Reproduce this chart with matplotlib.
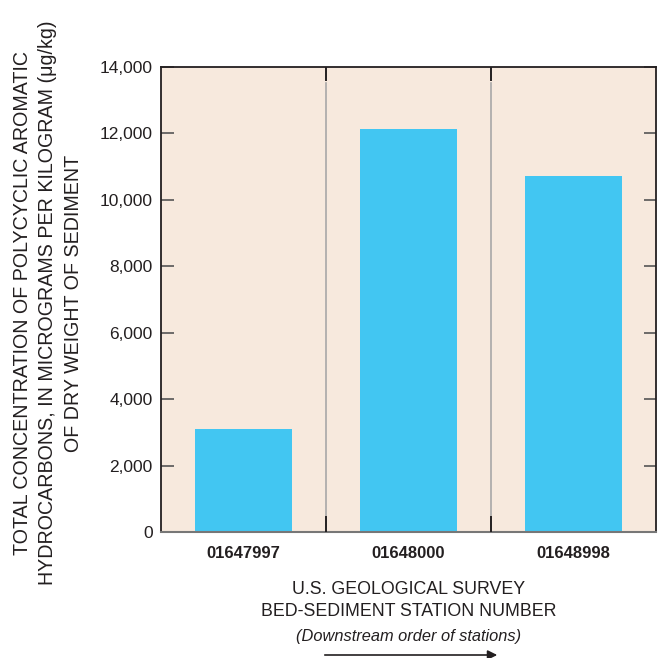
import matplotlib.pyplot as plt
from matplotlib.ticker import FuncFormatter, MultipleLocator

# ================================
# DATA
# ================================
stations = ["01647997", "01648000", "01648998"]
pah_total = [3100, 12130, 10710]  # micrograms per kilogram

y_max = 14000
y_step = 2000

plt.rcParams["font.family"] = ["Liberation Sans", "DejaVu Sans"]
ink = "#231f20"

# ================================
# FIGURE
# ================================
fig = plt.figure(figsize=(6.61, 6.58), dpi=100)
ax = fig.add_axes([161 / 661, 1 - 532 / 658, 495 / 661, 465 / 658])
ax.set_facecolor("#f7e9dd")

x = range(len(stations))
ax.bar(x, pah_total, width=0.59, color="#42c6f2", zorder=2)

ax.set_xlim(-0.5, len(stations) - 0.5)
ax.set_ylim(0, y_max)

# station separators with short black ticks at top and bottom
for sep in [0.5, 1.5]:
    ax.axvline(sep, ymin=0.035, ymax=0.965, color="#a8a8a8", lw=1.2, zorder=1)
    ax.axvline(sep, ymin=0, ymax=0.032, color=ink, lw=1.4, zorder=3)
    ax.axvline(sep, ymin=0.973, ymax=1, color=ink, lw=1.4, zorder=3)

ax.yaxis.set_major_locator(MultipleLocator(y_step))
ax.yaxis.set_major_formatter(FuncFormatter(lambda v, p: f"{int(v):,}"))
ax.tick_params(axis="y", direction="in", length=9, width=1.2, color="#555555",
               labelsize=12.5, right=True, pad=6, labelcolor=ink)
ax.set_xticks(list(x))
ax.set_xticklabels(stations, fontsize=12, fontweight="bold", color=ink)
ax.tick_params(axis="x", length=0, pad=10)

for side in ["left", "right", "top"]:
    ax.spines[side].set_color(ink)
    ax.spines[side].set_linewidth(1.3)
ax.spines["bottom"].set_color("#777777")
ax.spines["bottom"].set_linewidth(1.5)

fig.text(48 / 661, 1 - 303 / 658,
         "TOTAL CONCENTRATION OF POLYCYCLIC AROMATIC\n"
         "HYDROCARBONS, IN MICROGRAMS PER KILOGRAM (\u03bcg/kg)\n"
         "OF DRY WEIGHT OF SEDIMENT",
         rotation=90, ha="center", va="center", multialignment="center",
         fontsize=14.1, color=ink, linespacing=1.43)

fig.text(409 / 661, 1 - 590 / 658, "U.S. GEOLOGICAL SURVEY",
         ha="center", va="center", fontsize=12.8, color=ink)
fig.text(409 / 661, 1 - 611 / 658, "BED-SEDIMENT STATION NUMBER",
         ha="center", va="center", fontsize=12.8, color=ink)
fig.text(409 / 661, 1 - 636 / 658, "(Downstream order of stations)",
         ha="center", va="center", fontsize=11.8, style="italic", color=ink)

# direction arrow under the axis title
ax.annotate("", xy=(500 / 661, 1 - 655 / 658), xytext=(322 / 661, 1 - 655 / 658),
            xycoords="figure fraction", textcoords="figure fraction",
            annotation_clip=False,
            arrowprops=dict(arrowstyle="-|>", color=ink, lw=1.2,
                            mutation_scale=14))

fig.savefig("out.png", dpi=100)
